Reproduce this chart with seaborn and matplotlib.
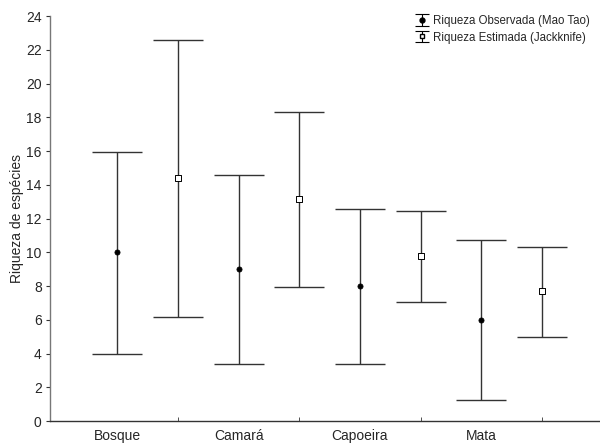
import numpy as np
import pandas as pd
import seaborn as sns
import matplotlib.pyplot as plt

# Dados (riqueza média e intervalos)
LOCAIS = ["Bosque", "Camará", "Capoeira", "Mata"]
OBS_MEDIA = [10.0, 9.0, 8.0, 6.0]
OBS_MIN = [4.0, 3.35, 3.4, 1.25]
OBS_MAX = [15.95, 14.6, 12.55, 10.7]
EST_MEDIA = [14.4, 13.15, 9.75, 7.7]
EST_MIN = [6.15, 7.95, 7.05, 4.98]
EST_MAX = [22.6, 18.3, 12.45, 10.32]

LABEL_OBS = "Riqueza Observada (Mao Tao)"
LABEL_EST = "Riqueza Estimada (Jackknife)"


def main():
    pos = np.arange(len(LOCAIS))
    df_obs = pd.DataFrame({"x": pos, "media": OBS_MEDIA, "lo": OBS_MIN, "hi": OBS_MAX})
    df_est = pd.DataFrame({"x": pos + 0.5, "media": EST_MEDIA, "lo": EST_MIN, "hi": EST_MAX})

    sns.set_style("ticks")
    plt.rcParams["font.family"] = ["Liberation Sans", "DejaVu Sans"]

    fig = plt.figure(figsize=(6, 4.44), dpi=100)
    ax = fig.add_axes([50 / 600, 1 - 421 / 444, 550 / 600, 405 / 444])

    cor = "#333333"
    for d in (df_obs, df_est):
        yerr = [d["media"] - d["lo"], d["hi"] - d["media"]]
        ax.errorbar(d["x"], d["media"], yerr=yerr, fmt="none", ecolor=cor,
                    elinewidth=1, capsize=18, capthick=1, zorder=2)

    sns.scatterplot(data=df_obs, x="x", y="media", ax=ax, marker="o", s=14,
                    color="black", edgecolor="black", linewidth=0.5, zorder=3)
    sns.scatterplot(data=df_est, x="x", y="media", ax=ax, marker="s", s=16,
                    color="white", edgecolor="black", linewidth=0.7, zorder=3)

    # proxies para a legenda (barrinhas pequenas)
    h_obs = ax.errorbar([np.nan], [np.nan], yerr=[np.nan], fmt="o", ms=3.5,
                        color="black", ecolor="black", elinewidth=0.8,
                        capsize=5, capthick=0.8, label=LABEL_OBS)
    h_est = ax.errorbar([np.nan], [np.nan], yerr=[np.nan], fmt="s", ms=3.5,
                        mfc="white", mec="black", color="black", ecolor="black",
                        elinewidth=0.8, capsize=5, capthick=0.8, label=LABEL_EST)
    fig.legend(handles=[h_obs, h_est], labels=[LABEL_OBS, LABEL_EST],
               loc="upper right", bbox_to_anchor=(0.995, 0.982),
               frameon=False, fontsize=8.3, handlelength=1.5,
               handletextpad=0.25, labelspacing=0.4, borderaxespad=0.2)

    ax.set_xlim(-0.555, 3.98)
    ax.set_ylim(0, 24)
    ax.set_yticks(np.arange(0, 25, 2))
    ax.set_xticks(pos)
    ax.set_xticklabels(LOCAIS)
    ax.set_xticks(pos + 0.5, minor=True)
    ax.tick_params(axis="x", which="major", length=0, labelsize=10, pad=6)
    ax.tick_params(axis="x", which="minor", length=3, direction="in", color=cor)
    ax.tick_params(axis="y", length=3, direction="out", labelsize=10, color=cor, pad=3)
    ax.set_xlabel("")
    ax.set_ylabel("Riqueza de espécies", fontsize=10, labelpad=1.5)

    sns.despine(ax=ax)
    ax.spines["left"].set_color("#777777")
    ax.spines["bottom"].set_color(cor)
    for s in ("left", "bottom"):
        ax.spines[s].set_linewidth(1)

    fig.savefig("out.png", dpi=100)


if __name__ == "__main__":
    main()
